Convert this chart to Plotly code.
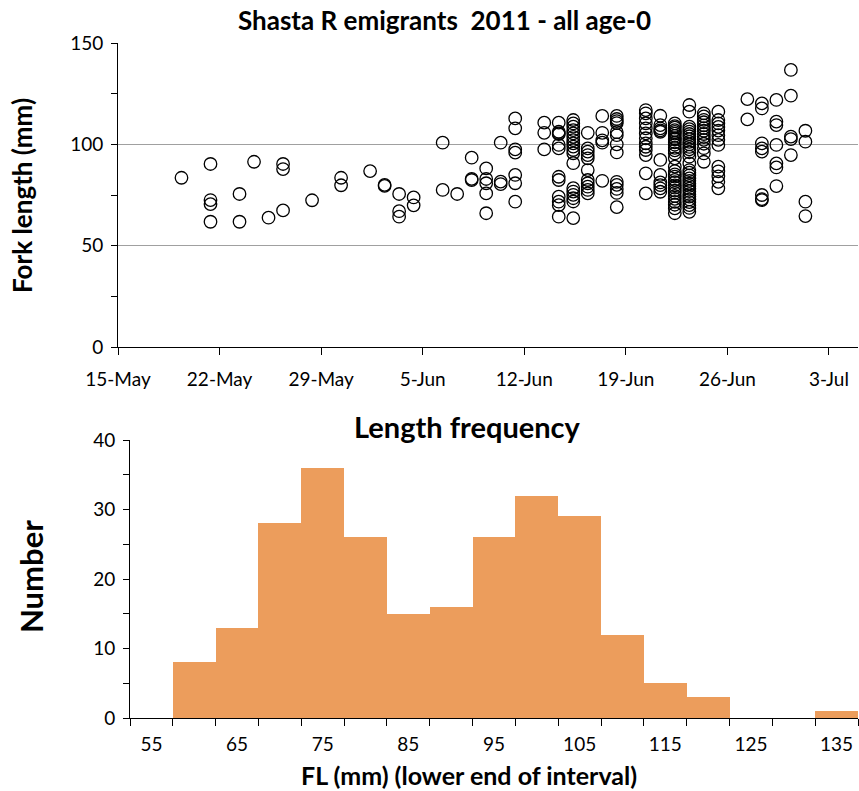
import plotly.graph_objects as go

# ---------------- data ----------------
sample_dates = [
    "2011-05-19", "2011-05-21", "2011-05-23", "2011-05-24", "2011-05-25", "2011-05-26",
    "2011-05-28", "2011-05-30", "2011-06-01", "2011-06-02", "2011-06-03", "2011-06-04",
    "2011-06-06", "2011-06-07", "2011-06-08", "2011-06-09", "2011-06-10", "2011-06-11",
    "2011-06-13", "2011-06-14", "2011-06-15", "2011-06-16", "2011-06-17", "2011-06-18",
    "2011-06-20", "2011-06-21", "2011-06-22", "2011-06-23", "2011-06-24", "2011-06-25",
    "2011-06-27", "2011-06-28", "2011-06-29", "2011-06-30", "2011-07-01",
]
catch_time = "09:00"

fork_lengths = [
    [83.5],
    [90.3, 72.5, 70.5, 61.8],
    [75.5, 61.8],
    [91.4],
    [63.8],
    [90.3, 87.8, 67.4],
    [72.4],
    [83.5, 79.8],
    [86.8],
    [80.0, 79.5],
    [75.5, 67.0, 64.3],
    [73.8, 69.9],
    [100.8, 77.5],
    [75.5],
    [93.4, 83.0, 82.4],
    [88.1, 82.9, 80.8, 75.8, 66.0],
    [100.8, 81.6, 80.4],
    [112.8, 107.9, 97.5, 95.9, 84.9, 80.8, 71.7],
    [110.7, 105.7, 97.5],
    [110.7, 106.2, 105.4, 105.0, 99.7, 98.0, 84.0, 82.4, 74.2, 71.7, 70.0, 64.3],
    [112.0, 110.3, 108.7, 107.0, 105.4, 103.7, 102.1, 100.5, 98.9, 97.2, 95.6, 90.7,
     78.4, 76.7, 75.1, 73.4, 71.8, 63.6],
    [105.7, 98.0, 96.4, 94.7, 93.1, 87.3, 82.4, 80.8, 79.1, 77.5, 75.8],
    [114.0, 105.7, 102.0, 100.8, 82.0],
    [114.0, 112.5, 111.5, 110.5, 106.0, 104.5, 100.0, 96.0, 81.5, 80.0, 78.0, 76.0, 69.0],
    [116.9, 115.3, 112.8, 110.4, 107.9, 105.4, 103.0, 100.5, 98.8, 97.2, 94.7, 85.7, 75.8],
    [114.1, 109.5, 107.9, 106.9, 106.2, 92.3, 84.9, 81.2, 79.9, 78.3, 76.6],
    [110.3, 109.0, 108.2, 107.0, 106.1, 105.3, 104.2, 103.0, 102.4, 101.0, 99.8, 98.3,
     97.0, 95.5, 93.1, 89.0, 86.8, 85.2, 84.1, 82.5, 81.3, 79.7, 78.6, 77.2, 76.0, 74.5,
     73.1, 71.6, 70.2, 68.4, 66.0],
    [119.4, 116.1, 108.7, 107.5, 106.3, 105.1, 104.0, 102.6, 101.2, 100.0, 98.7, 97.5,
     96.1, 93.9, 90.6, 87.3, 86.0, 84.7, 83.2, 82.0, 80.6, 79.5, 78.1, 76.9, 75.4, 74.2,
     72.8, 71.5, 70.0, 68.6, 66.7],
    [115.3, 113.8, 112.1, 110.9, 109.4, 108.0, 106.7, 105.1, 103.6, 102.2, 100.3, 98.1,
     95.5, 91.4],
    [116.1, 112.0, 110.3, 108.6, 106.8, 104.5, 102.2, 99.7, 89.0, 86.7, 84.2, 81.5, 78.3],
    [122.3, 112.3],
    [120.2, 117.7, 100.5, 98.0, 96.4, 75.0, 73.0, 72.5],
    [121.9, 111.2, 109.5, 99.7, 90.6, 88.6, 79.4],
    [136.7, 124.0, 103.8, 102.6, 94.7],
    [106.7, 101.3, 71.7, 64.6],
]

fl_classes = ["55", "60", "65", "70", "75", "80", "85", "90", "95", "100",
              "105", "110", "115", "120", "125", "130", "135"]
fl_counts = [0, 8, 13, 28, 36, 26, 15, 16, 26, 32, 29, 12, 5, 3, 0, 0, 1]
fl_labels = ["55", "", "65", "", "75", "", "85", "", "95", "",
             "105", "", "115", "", "125", "", "135"]

# ---------------- figure ----------------
W, H = 859, 791
FONT = "Lato, Roboto, Arial, sans-serif"

xs, ys = [], []
for d, vals in zip(sample_dates, fork_lengths):
    for v in vals:
        xs.append(f"{d} {catch_time}")
        ys.append(v)

fig = go.Figure()
fig.add_trace(go.Scatter(
    x=xs, y=ys, mode="markers", xaxis="x", yaxis="y",
    marker=dict(symbol="circle-open", size=12.5, color="black", line=dict(width=1.3, color="black")),
    showlegend=False, hoverinfo="x+y",
))
fig.add_trace(go.Bar(
    x=fl_classes, y=fl_counts, xaxis="x2", yaxis="y2",
    marker=dict(color="#EC9D5C", line=dict(width=0)),
    showlegend=False,
))


def px_x(p):
    return p / W


def px_y(p):
    return 1 - p / H


tickfont = dict(family=FONT, size=19, color="black")

fig.update_layout(
    width=W, height=H,
    margin=dict(l=0, r=0, t=0, b=0),
    paper_bgcolor="white", plot_bgcolor="white",
    bargap=0,
    font=dict(family=FONT, color="black"),
    xaxis=dict(
        domain=[px_x(118), px_x(858)],
        type="date",
        range=["2011-05-15", "2011-07-05"],
        tick0="2011-05-15", dtick=7 * 86400000,
        tickformat="%-d-%b",
        ticks="outside", ticklen=7, tickcolor="black",
        showline=True, linecolor="black", linewidth=1,
        showgrid=False, zeroline=False,
        tickfont=tickfont, ticklabelstandoff=8,
        automargin=False,
        anchor="y",
    ),
    yaxis=dict(
        domain=[px_y(347), px_y(43)],
        range=[0, 150], dtick=50,
        ticks="outside", ticklen=6, tickcolor="black",
        minor=dict(dtick=25, ticks="outside", ticklen=6, tickcolor="black", showgrid=False),
        showline=True, linecolor="black", linewidth=1,
        showgrid=True, gridcolor="#A0A0A0", gridwidth=1,
        zeroline=False,
        tickfont=tickfont, ticklabelstandoff=4,
        automargin=False,
        anchor="x",
    ),
    xaxis2=dict(
        domain=[px_x(130), px_x(858)],
        type="category",
        tickmode="array", tickvals=fl_classes, ticktext=fl_labels,
        tickson="boundaries",
        ticks="outside", ticklen=7, tickcolor="black",
        showline=True, linecolor="black", linewidth=1,
        showgrid=False, zeroline=False,
        tickfont=tickfont, ticklabelstandoff=9,
        range=[-0.5, len(fl_classes) - 0.5],
        automargin=False,
        anchor="y2",
    ),
    yaxis2=dict(
        domain=[px_y(718), px_y(440)],
        range=[0, 40], dtick=10,
        ticks="outside", ticklen=6, tickcolor="black",
        minor=dict(dtick=5, ticks="outside", ticklen=6, tickcolor="black", showgrid=False),
        showline=True, linecolor="black", linewidth=1,
        showgrid=False, zeroline=False,
        tickfont=tickfont, ticklabelstandoff=4,
        automargin=False,
        anchor="x2",
    ),
    annotations=[
        dict(text="<b>Shasta R emigrants  2011 - all age-0</b>", x=px_x(445), y=px_y(20),
             xref="paper", yref="paper", showarrow=False, xanchor="center", yanchor="middle",
             font=dict(family=FONT, size=26, color="black")),
        dict(text="<b>Fork length (mm)</b>", x=px_x(22), y=px_y(196), textangle=-90,
             xref="paper", yref="paper", showarrow=False, xanchor="center", yanchor="middle",
             font=dict(family=FONT, size=26, color="black")),
        dict(text="<b>Length frequency</b>", x=px_x(467), y=px_y(427),
             xref="paper", yref="paper", showarrow=False, xanchor="center", yanchor="middle",
             font=dict(family=FONT, size=29, color="black")),
        dict(text="<b>Number</b>", x=px_x(31), y=px_y(577), textangle=-90,
             xref="paper", yref="paper", showarrow=False, xanchor="center", yanchor="middle",
             font=dict(family=FONT, size=31, color="black")),
        dict(text="<b>FL (mm) (lower end of interval)</b>", x=px_x(469), y=px_y(775),
             xref="paper", yref="paper", showarrow=False, xanchor="center", yanchor="middle",
             font=dict(family=FONT, size=25, color="black")),
    ],
)

fig.write_html("out.html")
